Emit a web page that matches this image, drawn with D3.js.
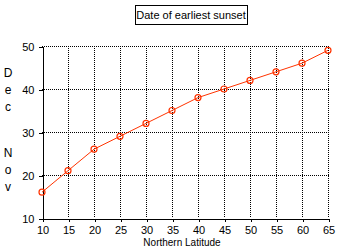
<!DOCTYPE html>
<html>
<head>
<meta charset="utf-8">
<script src="https://cdn.jsdelivr.net/npm/d3@7"></script>
<style>
  body { margin: 0; background: #fff; }
  svg { display: block; font-family: "Liberation Sans", Arial, sans-serif; }
</style>
</head>
<body>
<svg id="chart" width="340" height="250"></svg>
<script>
const latitudes = [10, 15, 20, 25, 30, 35, 40, 45, 50, 55, 60, 65];
const sunsetDay = [16, 21, 26, 29, 32, 35, 38, 40, 42, 44, 46, 49];
const xTicks = [10, 15, 20, 25, 30, 35, 40, 45, 50, 55, 60, 65];
const yTicks = [10, 20, 30, 40, 50];
const monthLabels = [["D", "e", "c"], ["N", "o", "v"]];

const svg = d3.select("#chart");
const red = "#ff3300";

const x = d3.scaleLinear().domain([10, 65]).range([42, 328]);
const y = d3.scaleLinear().domain([10, 50]).range([218, 46]);

// dotted grid
const grid = svg.append("g")
    .attr("stroke", "#000")
    .attr("stroke-dasharray", "1,1")
    .attr("shape-rendering", "crispEdges");

grid.selectAll(".vg")
    .data(xTicks.slice(1))
    .join("line")
    .attr("x1", (d) => Math.round(x(d)) + 0.5)
    .attr("x2", (d) => Math.round(x(d)) + 0.5)
    .attr("y1", y(50))
    .attr("y2", y(10));

grid.selectAll(".hg")
    .data(yTicks.slice(1))
    .join("line")
    .attr("x1", x(10))
    .attr("x2", x(65) + 1)
    .attr("y1", (d) => Math.round(y(d)) + 0.5)
    .attr("y2", (d) => Math.round(y(d)) + 0.5);

// axes
const yAxis = svg.append("g")
    .attr("transform", `translate(${x(10) + 0.5},0.5)`)
    .call(d3.axisLeft(y).tickValues(yTicks).tickSize(4).tickSizeOuter(0).tickPadding(4));

const xAxis = svg.append("g")
    .attr("transform", `translate(0.5,${y(10) + 0.5})`)
    .call(d3.axisBottom(x).tickValues(xTicks).tickSize(3).tickSizeOuter(0).tickPadding(5));

[xAxis, yAxis].forEach((g) => {
    g.attr("font-family", null).attr("font-size", 11);
    g.selectAll("path, line").attr("stroke", "#000").attr("shape-rendering", "crispEdges");
    g.selectAll("text").attr("fill", "#000");
});

// line + markers
svg.append("path")
    .datum(latitudes.map((d, i) => [d, sunsetDay[i]]))
    .attr("fill", "none")
    .attr("stroke", red)
    .attr("stroke-width", 1)
    .attr("d", d3.line().x((d) => x(d[0])).y((d) => y(d[1])));

svg.selectAll(".pt")
    .data(latitudes)
    .join("circle")
    .attr("cx", (d) => x(d))
    .attr("cy", (d, i) => y(sunsetDay[i]))
    .attr("r", 3)
    .attr("fill", "none")
    .attr("stroke", red)
    .attr("stroke-width", 1.2);

// title box
svg.append("rect")
    .attr("x", 135.5).attr("y", 5.5)
    .attr("width", 112).attr("height", 19)
    .attr("fill", "#fff").attr("stroke", "#000");
svg.append("text")
    .attr("x", 191).attr("y", 19)
    .attr("text-anchor", "middle")
    .attr("font-size", 11)
    .text("Date of earliest sunset");

// x label
svg.append("text")
    .attr("x", 182).attr("y", 246)
    .attr("text-anchor", "middle")
    .attr("font-size", 10)
    .text("Northern Latitude");

// stacked month letters on the left
const monthTop = [77, 157];
monthLabels.forEach((letters, m) => {
    svg.append("g")
        .selectAll("text")
        .data(letters)
        .join("text")
        .attr("x", 8)
        .attr("y", (d, i) => monthTop[m] + i * 17)
        .attr("text-anchor", "middle")
        .attr("font-size", 12)
        .text((d) => d);
});
</script>
</body>
</html>
